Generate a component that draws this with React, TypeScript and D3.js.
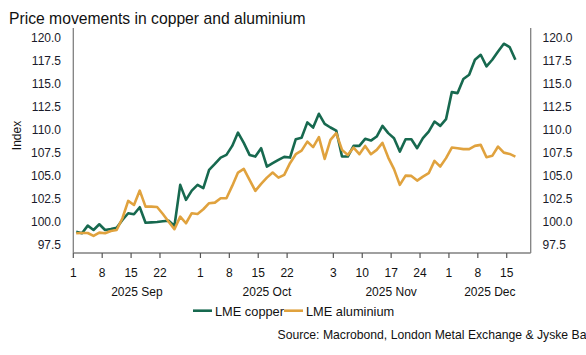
import React from "react";
import * as d3 from "d3";

const startDate = "2025-09-01";
const axisEndDate = "2025-12-19";

const copper = [
  98.94, 98.77, 99.6, 99.13, 99.75, 99.13, 99.24, 99.38, 100.22, 100.95,
  100.84, 101.6, 99.92, 99.96, 100.0, 100.07, 100.14, 99.56, 104.03, 102.4,
  103.41, 104.03, 103.67, 105.66, 106.31, 107.0, 107.29, 108.27, 109.72, 108.6,
  107.29, 107.11, 108.02, 106.02, 106.39, 106.75, 107.08, 107.0, 109.0, 109.15,
  110.83, 110.27, 111.76, 110.67, 110.27, 109.94, 107.11, 107.11, 108.27, 108.27,
  109.04, 108.85, 109.29, 110.45, 109.66, 109.11, 107.65, 109.0, 109.0, 108.02,
  109.11, 109.83, 110.92, 110.45, 111.18, 114.12, 114.01, 115.54, 116.0, 117.64,
  118.18, 116.91, 117.64, 118.54, 119.38, 119.02, 117.64,
];

const aluminium = [
  98.77, 98.8, 98.8, 98.48, 98.84, 98.77, 99.02, 99.13, 100.4, 102.29,
  101.85, 103.41, 101.67, 101.67, 101.63, 100.87, 100.03, 99.21, 100.58, 99.86,
  100.95, 100.87, 101.38, 102.04, 102.1, 102.58, 102.58, 103.92, 105.37, 105.77,
  104.57, 103.38, 104.14, 104.82, 105.37, 104.82, 105.12, 106.39, 107.37, 107.76,
  108.74, 108.13, 109.22, 106.86, 108.93, 109.66, 107.84, 107.29, 108.09, 107.37,
  108.27, 107.37, 107.84, 108.6, 107.0, 105.74, 104.03, 105.04, 105.01, 104.5,
  104.93, 105.3, 106.64, 106.02, 106.94, 108.09, 108.02, 107.92, 107.92, 108.27,
  108.38, 107.04, 107.19, 108.2, 107.54, 107.4, 107.11,
];

const tickDates = [
  "2025-09-01", "2025-09-08", "2025-09-15", "2025-09-22",
  "2025-10-01", "2025-10-08", "2025-10-15", "2025-10-22",
  "2025-11-03", "2025-11-10", "2025-11-17", "2025-11-24",
  "2025-12-01", "2025-12-08", "2025-12-15",
];
const monthStarts = ["2025-09-01", "2025-10-01", "2025-11-03", "2025-12-01"];
const monthLabels = ["2025 Sep", "2025 Oct", "2025 Nov", "2025 Dec"];
const yTicks = [97.5, 100, 102.5, 105, 107.5, 110, 112.5, 115, 117.5, 120];

const seriesNames = ["LME copper", "LME aluminium"];
const seriesColors = ["#17694f", "#e0a23e"];

const FONT = "'Liberation Sans', Arial, sans-serif";

function parse(s: string) {
  const [y, m, d] = s.split("-").map(Number);
  return new Date(Date.UTC(y, m - 1, d));
}
// weekday index from start
function bizIndex(s: string) {
  const start = parse(startDate);
  const end = parse(s);
  let n = 0;
  for (let t = new Date(start); t < end; t = new Date(t.getTime() + 86400000)) {
    const wd = t.getUTCDay();
    if (wd !== 0 && wd !== 6) n++;
  }
  return n;
}

export default function App() {
  const left = 73.3;
  const right = 530.7;
  const top = 28;
  const bottom = 253;
  const endIdx = bizIndex(axisEndDate) + 0.15;
  const x = d3.scaleLinear().domain([0, endIdx]).range([left, right]);
  const y = d3.scaleLinear().domain([96.625, 121.09]).range([bottom, top]);

  const line = d3
    .line<number>()
    .x((_, i) => x(i + 0.5))
    .y((d) => y(d))
    .curve(d3.curveLinear);

  const series = [copper, aluminium];
  const monthBounds = monthStarts.map((m) => bizIndex(m)).concat([endIdx]);

  return (
    <svg
      width={586}
      height={355}
      style={{ position: "absolute", left: 0, top: 0, background: "#fff" }}
      fontFamily={FONT}
    >
      <rect width={586} height={355} fill="#fff" />
      <text x={9} y={24} fontSize={15.7} fill="#111">
        Price movements in copper and aluminium
      </text>

      {/* Y labels */}
      {yTicks.map((t) => (
        <g key={t}>
          <text x={61} y={y(t) + 4.3} fontSize={12} textAnchor="end" fill="#1a1a2a">
            {t.toFixed(1)}
          </text>
          <text x={542.5} y={y(t) + 4.3} fontSize={12} textAnchor="start" fill="#1a1a2a">
            {t.toFixed(1)}
          </text>
        </g>
      ))}
      <text
        transform={`translate(21,${(top + bottom) / 2 - 5}) rotate(-90)`}
        fontSize={12}
        textAnchor="middle"
        fill="#111"
      >
        Index
      </text>

      {/* Lines */}
      {series.map((s, k) => (
        <path
          key={k}
          d={line(s) || ""}
          fill="none"
          stroke={seriesColors[k]}
          strokeWidth={2.6}
          strokeLinejoin="round"
        />
      ))}

      {/* Axes */}
      <line x1={left} x2={left} y1={top} y2={bottom} stroke="#808080" strokeWidth={1.3} />
      <line x1={right} x2={right} y1={top} y2={bottom} stroke="#808080" strokeWidth={1.3} />
      <line x1={left} x2={right} y1={bottom} y2={bottom} stroke="#808080" strokeWidth={1.3} />

      {tickDates.map((d) => {
        const xi = x(bizIndex(d));
        return (
          <g key={d}>
            <line x1={xi} x2={xi} y1={bottom} y2={bottom + 5} stroke="#555" strokeWidth={1.2} />
            <text x={xi} y={277} fontSize={12} textAnchor="middle" fill="#111">
              {String(parse(d).getUTCDate())}
            </text>
          </g>
        );
      })}
      {monthLabels.map((m, i) => (
        <text
          key={m}
          x={(x(monthBounds[i]) + x(monthBounds[i + 1])) / 2}
          y={296}
          fontSize={12}
          textAnchor="middle"
          fill="#111"
        >
          {m}
        </text>
      ))}

      {/* Legend */}
      <g>
        <line x1={193} x2={212} y1={310.7} y2={310.7} stroke={seriesColors[0]} strokeWidth={2.6} />
        <text x={215} y={315.5} fontSize={12.8} fill="#111">
          {seriesNames[0]}
        </text>
        <line x1={284} x2={303} y1={310.7} y2={310.7} stroke={seriesColors[1]} strokeWidth={2.6} />
        <text x={306} y={315.5} fontSize={12.8} fill="#111">
          {seriesNames[1]}
        </text>
      </g>

      <text x={277.5} y={338.5} fontSize={12.2} fill="#111">
        Source: Macrobond, London Metal Exchange &amp; Jyske Bank
      </text>
    </svg>
  );
}
